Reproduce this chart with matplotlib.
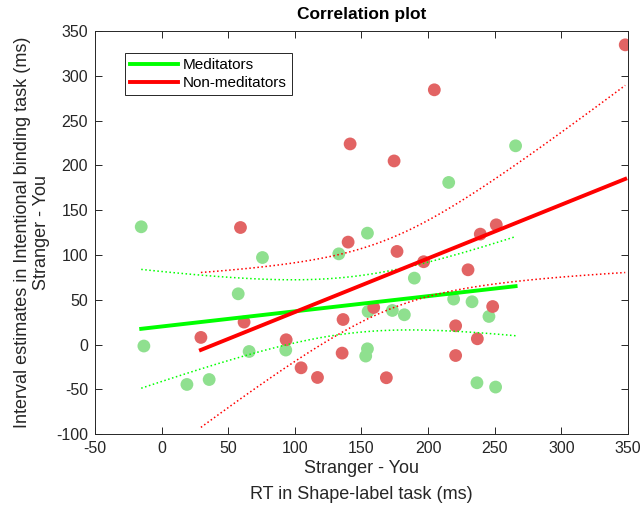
import numpy as np
import matplotlib
matplotlib.use('Agg')
import matplotlib.pyplot as plt

plt.rcParams['font.family'] = ['Liberation Sans', 'DejaVu Sans']
plt.rcParams['axes.unicode_minus'] = False

# RT difference (Stranger - You) vs interval estimate difference
med_x = [-15.3, -13.3, 19, 35.7, 65.7, 93.2, 57.5, 75.7, 133, 154.5, 155, 154.5,
         153.2, 173.2, 182.2, 189.7, 215.5, 265.7, 219.2, 233, 245.7, 236.7, 250.7]
med_y = [131.5, -1.6, -44.5, -39, -7.7, -6.1, 56.7, 97.2, 101.3, 124.4, 37, -4.7,
         -12.8, 38.1, 33.3, 74.2, 181, 221.9, 50.8, 47.8, 31.4, -42.6, -47.4]

non_x = [29.5, 59.2, 61.9, 93.5, 104.7, 117, 135.5, 136.2, 140, 141.5, 159.2, 168.7,
         174.5, 176.7, 196.7, 204.7, 220.7, 220.7, 230, 237, 239.2, 248.5, 251.2, 348]
non_y = [8, 130.7, 25.1, 5.4, -25.9, -36.7, -9.5, 28, 114.4, 224, 41.4, -37,
         205, 104, 92.5, 284.4, 21, -12.2, 83.5, 6.5, 123.3, 42.5, 133.7, 334.6]

T95 = {23: 2.080, 24: 2.074}  # t(0.975, n-2)


def fit_with_ci(x, y):
    x = np.asarray(x)
    y = np.asarray(y)
    n = len(x)
    b, a = np.polyfit(x, y, 1)
    xs = np.linspace(x.min(), x.max(), 100)
    yfit = a + b * xs
    resid = y - (a + b * x)
    s = np.sqrt(np.sum(resid ** 2) / (n - 2))
    sxx = np.sum((x - x.mean()) ** 2)
    half = T95[n] * s * np.sqrt(1 / n + (xs - x.mean()) ** 2 / sxx)
    return xs, yfit, yfit - half, yfit + half


fig = plt.figure(figsize=(6.44, 5.09), dpi=100)
ax = fig.add_axes([0.1475, 0.147, 0.8275, 0.792])

ax.scatter(med_x, med_y, s=85, color='#8fe08f', edgecolors='none', zorder=2)
ax.scatter(non_x, non_y, s=85, color='#e26464', edgecolors='none', zorder=2)

xs, yf, lo, hi = fit_with_ci(med_x, med_y)
ax.plot(xs, yf, color='#00ff00', lw=2.8, label='Meditators', zorder=3)
ax.plot(xs, lo, color='#00ff00', lw=1.1, ls=':', zorder=3)
ax.plot(xs, hi, color='#00ff00', lw=1.1, ls=':', zorder=3)

xs, yf, lo, hi = fit_with_ci(non_x, non_y)
ax.plot(xs, yf, color='#ff0000', lw=2.8, label='Non-meditators', zorder=3)
ax.plot(xs, lo, color='#ff0000', lw=1.1, ls=':', zorder=3)
ax.plot(xs, hi, color='#ff0000', lw=1.1, ls=':', zorder=3)

ax.set_xlim(-50, 350)
ax.set_ylim(-100, 350)
ax.set_xticks(np.arange(-50, 351, 50))
ax.set_yticks(np.arange(-100, 351, 50))
ax.tick_params(direction='in', top=True, right=True, length=5, width=0.7,
               labelsize=11.5, colors='#262626', pad=5)
for sp in ax.spines.values():
    sp.set_color('#262626')
    sp.set_linewidth(0.7)

ax.set_title('Correlation plot', fontsize=12.5, fontweight='bold', pad=9)
ax.set_xlabel('Stranger - You\nRT in Shape-label task (ms)', fontsize=13,
              color='#262626', linespacing=1.7, labelpad=3)
ax.set_ylabel('Interval estimates in Intentional binding task (ms)\nStranger - You',
              fontsize=13, color='#262626', labelpad=4)

leg = ax.legend(loc='upper left', bbox_to_anchor=(0.056, 0.946), fontsize=11,
                handlelength=3.1, handletextpad=0.35, fancybox=False, framealpha=1,
                borderaxespad=0, edgecolor='#262626', borderpad=0.35, labelspacing=0.25)
leg.get_frame().set_linewidth(0.7)

plt.savefig('out.png', dpi=100)
